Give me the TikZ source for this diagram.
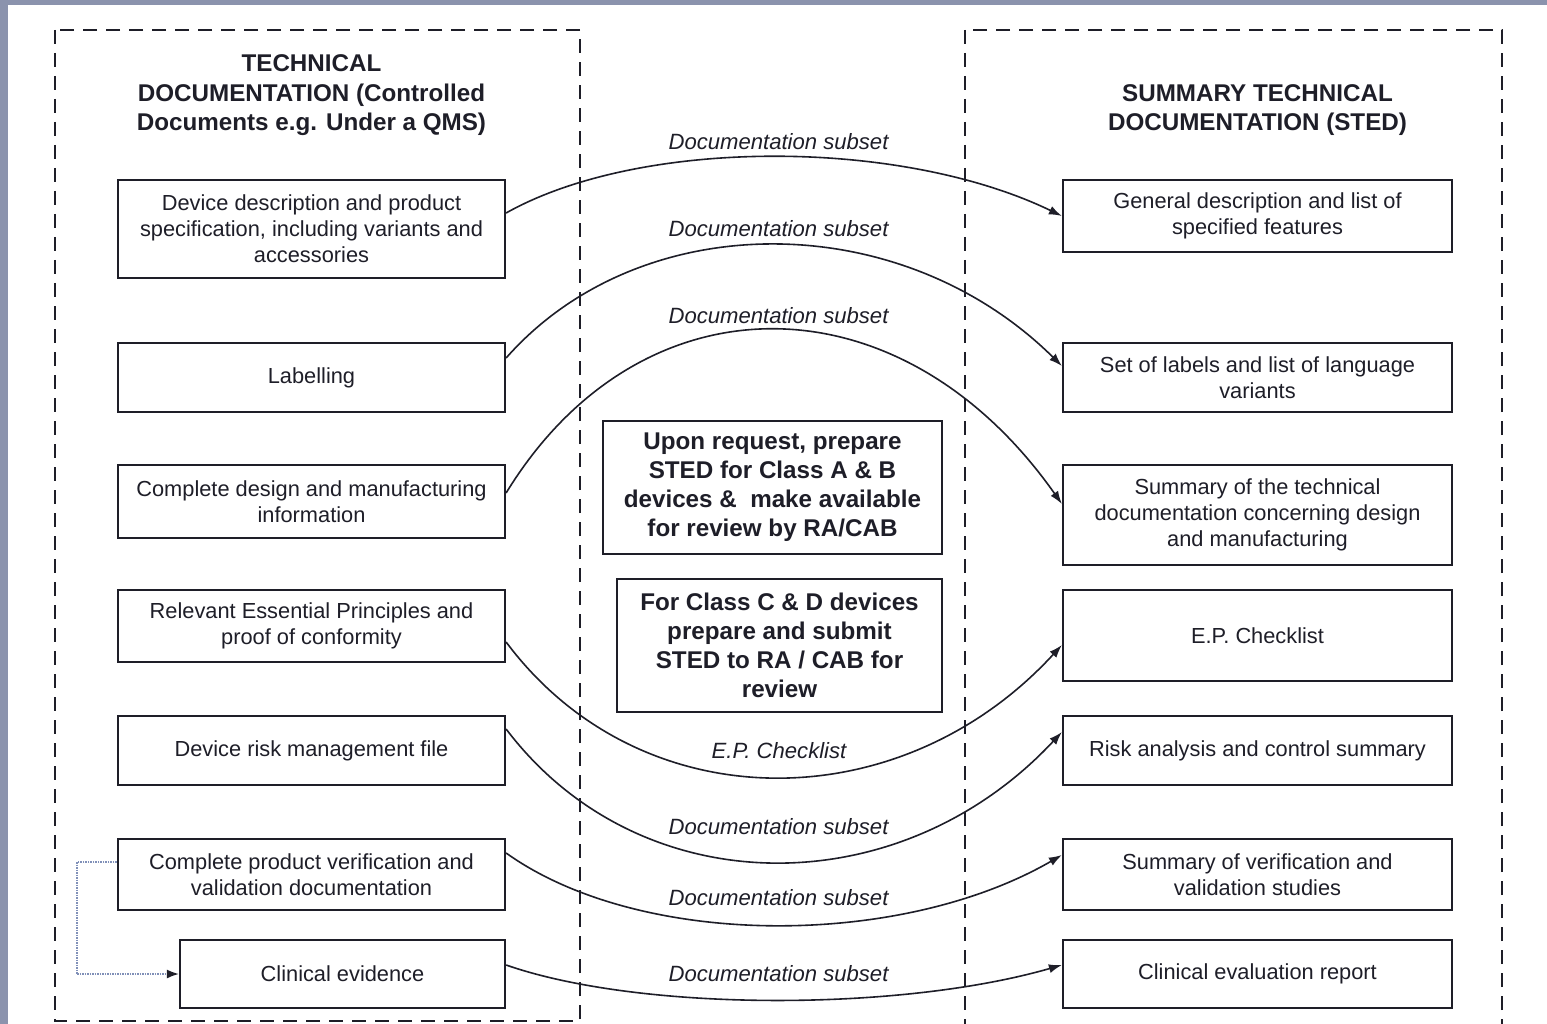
\documentclass[tikz,border=0pt]{standalone}
\usepackage{fontspec}
\setmainfont{Liberation Sans}
\usetikzlibrary{arrows.meta}
\definecolor{frame}{HTML}{8B93AD}
\definecolor{ink}{HTML}{1E1E28}
\definecolor{dotline}{HTML}{8090B8}
\begin{document}
\begin{tikzpicture}[x=1pt,y=-1pt,
  every node/.style={inner sep=0pt, align=center, text=ink},
  docbox/.style={draw=ink, line width=2.2pt, font=\fontsize{21.8}{26}\selectfont},
  notebox/.style={draw=ink, line width=2.2pt, font=\bfseries\fontsize{24.2}{29}\selectfont},
  head/.style={font=\bfseries\fontsize{24.2}{29.5}\selectfont},
  region/.style={draw=ink, line width=2pt, dash pattern=on 14pt off 9pt},
  flow/.style={draw=ink, line width=1.6pt, -{Latex[length=13pt,width=9pt]}},
  flowlabel/.style={font=\itshape\fontsize{22.1}{26}\selectfont},
  feed/.style={draw=dotline, line width=1.5pt, densely dotted, -{Latex[length=12pt,width=9pt,color=ink]}}
]
% page and frame
\useasboundingbox (0,0) rectangle (1547,1024);
\clip (0,0) rectangle (1547,1024);
\fill[frame] (0,0) rectangle (1547,1024);
\fill[white] (8,5) rectangle (1547,1024);

% the two document regions
\draw[region] (55,30) rectangle (580,1021);
\draw[region] (965,30) rectangle (1502,1045);

\node[head] (hl) at (311.5,95.5) {TECHNICAL\\DOCUMENTATION (Controlled\\Documents e.g. Under a QMS)};
\node[head] (hr) at (1257.5,110) {SUMMARY TECHNICAL\\DOCUMENTATION (STED)};

% technical documentation
\node[docbox, minimum width=387pt, minimum height=98pt] (l1) at (311.5,229) {Device description and product\\specification, including variants and\\accessories};
\node[docbox, minimum width=387pt, minimum height=69pt] (l2) at (311.5,377.5) {Labelling};
\node[docbox, minimum width=387pt, minimum height=73pt] (l3) at (311.5,501.5) {Complete design and manufacturing\\information};
\node[docbox, minimum width=387pt, minimum height=72pt] (l4) at (311.5,626) {Relevant Essential Principles and\\proof of conformity};
\node[docbox, minimum width=387pt, minimum height=69pt] (l5) at (311.5,750.5) {Device risk management file};
\node[docbox, minimum width=387pt, minimum height=71pt] (l6) at (311.5,874.5) {Complete product verification and\\validation documentation};
\node[docbox, minimum width=325pt, minimum height=68pt] (l7) at (342.5,974) {Clinical evidence};

% summary technical documentation
\node[docbox, minimum width=389pt, minimum height=72pt] (r1) at (1257.5,216) {General description and list of\\specified features};
\node[docbox, minimum width=389pt, minimum height=69pt] (r2) at (1257.5,377.5) {Set of labels and list of language\\variants};
\node[docbox, minimum width=389pt, minimum height=100pt] (r3) at (1257.5,515) {Summary of the technical\\documentation concerning design\\and manufacturing};
\node[docbox, minimum width=389pt, minimum height=91pt] (r4) at (1257.5,635.5) {E.P. Checklist};
\node[docbox, minimum width=389pt, minimum height=69pt] (r5) at (1257.5,750.5) {Risk analysis and control summary};
\node[docbox, minimum width=389pt, minimum height=71pt] (r6) at (1257.5,874.5) {Summary of verification and\\validation studies};
\node[docbox, minimum width=389pt, minimum height=68pt] (r7) at (1257.5,974) {Clinical evaluation report};

% submission notes
\node[notebox, minimum width=339pt, minimum height=133pt] (na) at (772.5,487.5) {Upon request, prepare\\STED for Class A \& B\\devices \&\ \ make available\\for review by RA/CAB};
\node[notebox, minimum width=325pt, minimum height=133pt] (nb) at (779.5,645.5) {For Class C \& D devices\\prepare and submit\\STED to RA / CAB for\\review};

% flows from technical documentation to STED
\draw[flow] ([yshift=16pt]l1.east) .. controls (640,137.7) and (900,137.7) .. (r1.west);
\draw[flow] ([yshift=19.5pt]l2.east) .. controls (640,206) and (900,206) .. ([yshift=11.5pt]r2.west);
\draw[flow] ([yshift=8.5pt]l3.east) .. controls (640,273.8) and (900,273.8) .. ([yshift=11pt]r3.west);
\draw[flow] ([yshift=-16pt]l4.east) .. controls (640,821.5) and (900,821.5) .. ([yshift=-9.5pt]r4.west);
\draw[flow] ([yshift=21.5pt]l5.east) .. controls (640,905.8) and (900,905.8) .. ([yshift=18.5pt]r5.west);
\draw[flow] ([yshift=21.5pt]l6.east) .. controls (640,948.7) and (900,948.7) .. ([yshift=19.5pt]r6.west);
\draw[flow] ([yshift=9pt]l7.east) .. controls (640,1011.7) and (900,1011.7) .. ([yshift=9pt]r7.west);

\node[flowlabel] (f1) at (778.5,142) {Documentation subset};
\node[flowlabel] (f2) at (778.5,229) {Documentation subset};
\node[flowlabel] (f3) at (778.5,316) {Documentation subset};
\node[flowlabel] (f4) at (779,751) {E.P. Checklist};
\node[flowlabel] (f5) at (778.5,827) {Documentation subset};
\node[flowlabel] (f6) at (778.5,898) {Documentation subset};
\node[flowlabel] (f7) at (778.5,974) {Documentation subset};

% verification feeds clinical evidence
\draw[feed] ([yshift=12.5pt]l6.west) -- ++(-40,0) |- (l7.west);
\end{tikzpicture}
\end{document}
